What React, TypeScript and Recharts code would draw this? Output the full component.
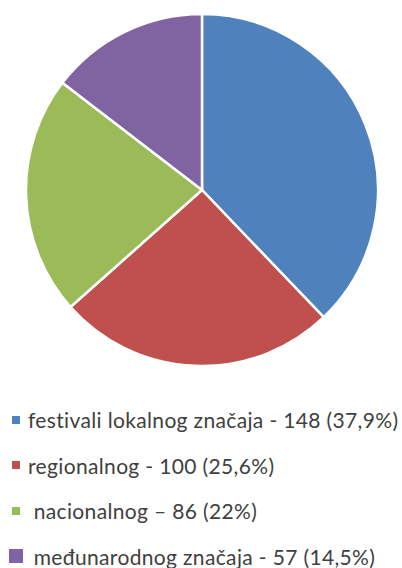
import React from "react";
import { PieChart, Pie, Cell, Legend } from "recharts";

const categories = [
  "festivali lokalnog značaja - 148 (37,9%)",
  "regionalnog - 100 (25,6%)",
  " nacionalnog – 86 (22%)",
  " međunarodnog značaja - 57 (14,5%)",
];
const values = [148, 100, 86, 57];
const colors = ["#4F81BD", "#C0504D", "#9BBB59", "#8064A2"];
const markerSizes = [8, 8, 8, 14];

const data = categories.map((name, i) => ({ name, value: values[i] }));

const LegendContent = () => (
  <div style={{ fontFamily: "Lato, 'Open Sans', sans-serif", fontSize: 21, letterSpacing: 0.35, color: "#404040", textAlign: "left" }}>
    {categories.map((c, i) => (
      <div key={i} style={{ display: "flex", alignItems: "center", height: 45.5, whiteSpace: "pre" }}>
        <div style={{ width: 24, display: "flex", justifyContent: "center", marginLeft: 4 }}>
          <div style={{ width: markerSizes[i], height: markerSizes[i], background: colors[i] }} />
        </div>
        <span>{c}</span>
      </div>
    ))}
  </div>
);

export default function App() {
  return (
    <div style={{ position: "absolute", left: 0, top: 0, width: 402, height: 568, background: "#fff" }}>
      <PieChart width={402} height={568} margin={{ top: 0, right: 0, bottom: 0, left: 0 }}>
        <Pie
          data={data}
          dataKey="value"
          nameKey="name"
          cx={202}
          cy={190}
          outerRadius={176}
          innerRadius={0}
          startAngle={90}
          endAngle={-270}
          stroke="#fff"
          strokeWidth={2.5}
          isAnimationActive={false}
        >
          {data.map((d, i) => (
            <Cell key={i} fill={colors[i]} />
          ))}
        </Pie>
        <Legend
          content={<LegendContent />}
          layout="horizontal"
          verticalAlign="bottom"
          align="left"
          wrapperStyle={{ position: "absolute", left: 0, top: 397, width: 402, height: 182 }}
        />
      </PieChart>
    </div>
  );
}
